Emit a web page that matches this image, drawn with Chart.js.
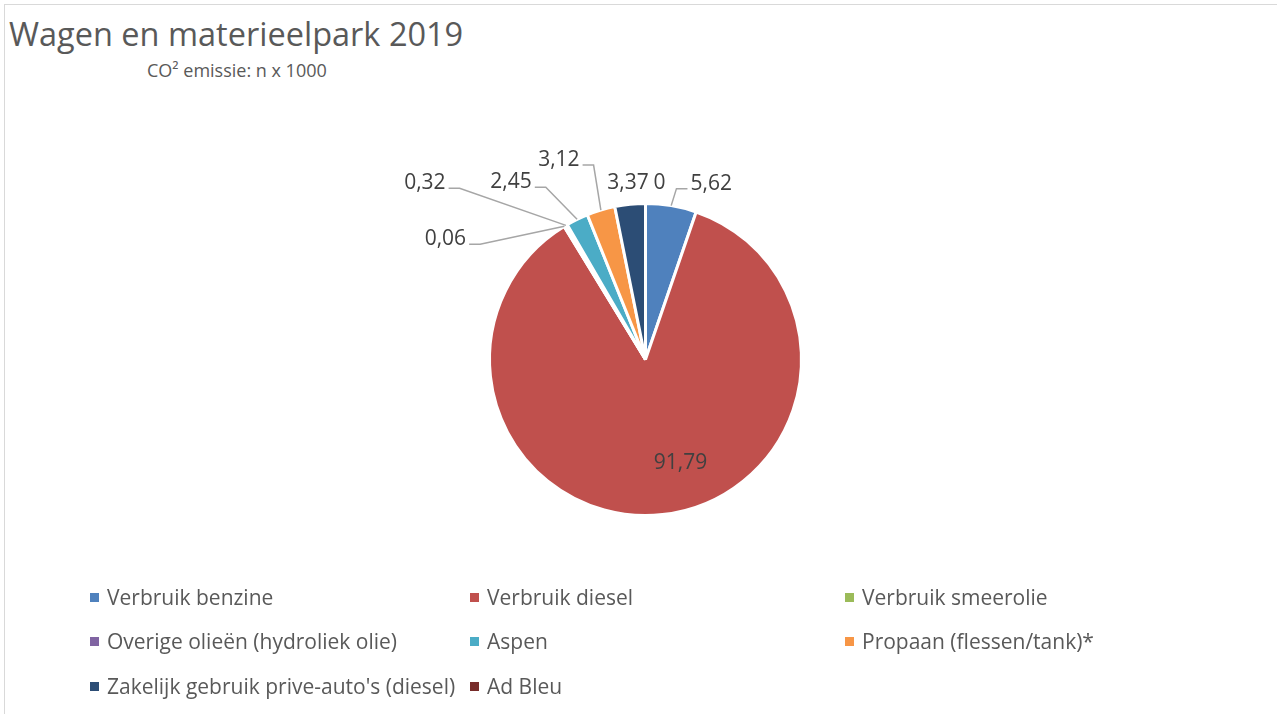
<!DOCTYPE html>
<html>
<head>
<meta charset="utf-8">
<script src="https://cdn.jsdelivr.net/npm/chart.js@4/dist/chart.umd.min.js"></script>
<style>
  html, body { margin: 0; padding: 0; background: #fff; overflow: hidden; }
  body { width: 1277px; height: 714px; position: relative; font-family: "Open Sans", sans-serif; color: #595959; }
  .frame { position: absolute; left: 4px; top: 4px; width: 1400px; height: 800px; border: 1px solid #d9d9d9; }
  .title { position: absolute; left: 9px; top: 14px; font-size: 32.5px; line-height: 40px; white-space: nowrap; }
  .subtitle { position: absolute; left: 147px; top: 58px; font-size: 18px; line-height: 24px; white-space: nowrap; }
  #wrap { position: absolute; left: 0; top: 0; width: 1277px; height: 714px; }
  .legend-item { position: absolute; font-size: 21px; line-height: 26px; white-space: nowrap; display: flex; align-items: center; }
  .legend-item i { display: inline-block; width: 9px; height: 9px; margin-right: 8px; }
</style>
</head>
<body>
<div class="frame"></div>
<div class="title">Wagen en materieelpark 2019</div>
<div class="subtitle">CO² emissie: n x 1000</div>
<div id="wrap"><canvas id="pieChart"></canvas></div>
<div id="legend"></div>
<script>
const categories = [
  'Verbruik benzine',
  'Verbruik diesel',
  'Verbruik smeerolie',
  'Overige olieën (hydroliek olie)',
  'Aspen',
  'Propaan (flessen/tank)*',
  "Zakelijk gebruik prive-auto's (diesel)",
  'Ad Bleu'
];
const values = [5.62, 91.79, 0.06, 0.32, 2.45, 3.12, 3.37, 0];
const colors = ['#4f81bd', '#c0504d', '#9bbb59', '#8064a2', '#4bacc6', '#f79646', '#2c4d75', '#772c2a'];

// label placement relative to the outer point of each slice, and whether a leader line is drawn
const labelOffsets = [[40, -22], [18, -52], [-119, 13], [-141, -42], [-66, -37], [-42, -50], [-2, -21], [14, -20]];
const leaders = [true, false, true, true, true, true, false, false];

const fmt = v => v.toLocaleString('nl-NL', { maximumFractionDigits: 2 });

const pieLabels = {
  id: 'pieLabels',
  afterDatasetsDraw(chart) {
    const ctx = chart.ctx;
    const meta = chart.getDatasetMeta(0);
    ctx.save();
    ctx.font = '21px "Open Sans", sans-serif';
    ctx.textBaseline = 'middle';
    ctx.textAlign = 'center';
    meta.data.forEach((arc, i) => {
      const p = arc.getProps(['x', 'y', 'startAngle', 'endAngle', 'outerRadius'], true);
      const a = (p.startAngle + p.endAngle) / 2;
      const ax = p.x + Math.cos(a) * p.outerRadius;
      const ay = p.y + Math.sin(a) * p.outerRadius;
      const tx = ax + labelOffsets[i][0];
      const ty = ay + labelOffsets[i][1];
      const text = fmt(values[i]);
      const w = ctx.measureText(text).width;
      if (leaders[i]) {
        const right = tx < ax;
        const edge = right ? tx + w / 2 + 3 : tx - w / 2 - 3;
        const elbow = right ? edge + 11 : edge - 11;
        const ly = ty + 5;
        ctx.strokeStyle = '#a6a6a6';
        ctx.lineWidth = 1.5;
        ctx.beginPath();
        ctx.moveTo(ax, ay);
        ctx.lineTo(elbow, ly);
        ctx.lineTo(edge, ly);
        ctx.stroke();
      }
      ctx.fillStyle = '#404040';
      ctx.fillText(text, tx, ty);
    });
    ctx.restore();
  }
};

const chart = new Chart(document.getElementById('pieChart'), {
  type: 'pie',
  data: {
    labels: categories,
    datasets: [{
      data: values,
      backgroundColor: colors,
      borderColor: '#ffffff',
      borderWidth: 3
    }]
  },
  options: {
    responsive: true,
    maintainAspectRatio: false,
    animation: false,
    layout: { padding: { left: 488, right: 474, top: 202, bottom: 197 } },
    plugins: {
      legend: { display: false },
      tooltip: { enabled: false }
    }
  },
  plugins: [pieLabels]
});

// legend laid out in three columns like the original
const legendCols = [90, 470, 845];
const legendRows = [597, 641, 686];
const legend = document.getElementById('legend');
categories.forEach((c, i) => {
  const el = document.createElement('div');
  el.className = 'legend-item';
  el.style.left = legendCols[i % 3] + 'px';
  el.style.top = (legendRows[Math.floor(i / 3)] - 13) + 'px';
  el.innerHTML = `<i style="background:${colors[i]}"></i><span>${c}</span>`;
  legend.appendChild(el);
});
</script>
</body>
</html>
